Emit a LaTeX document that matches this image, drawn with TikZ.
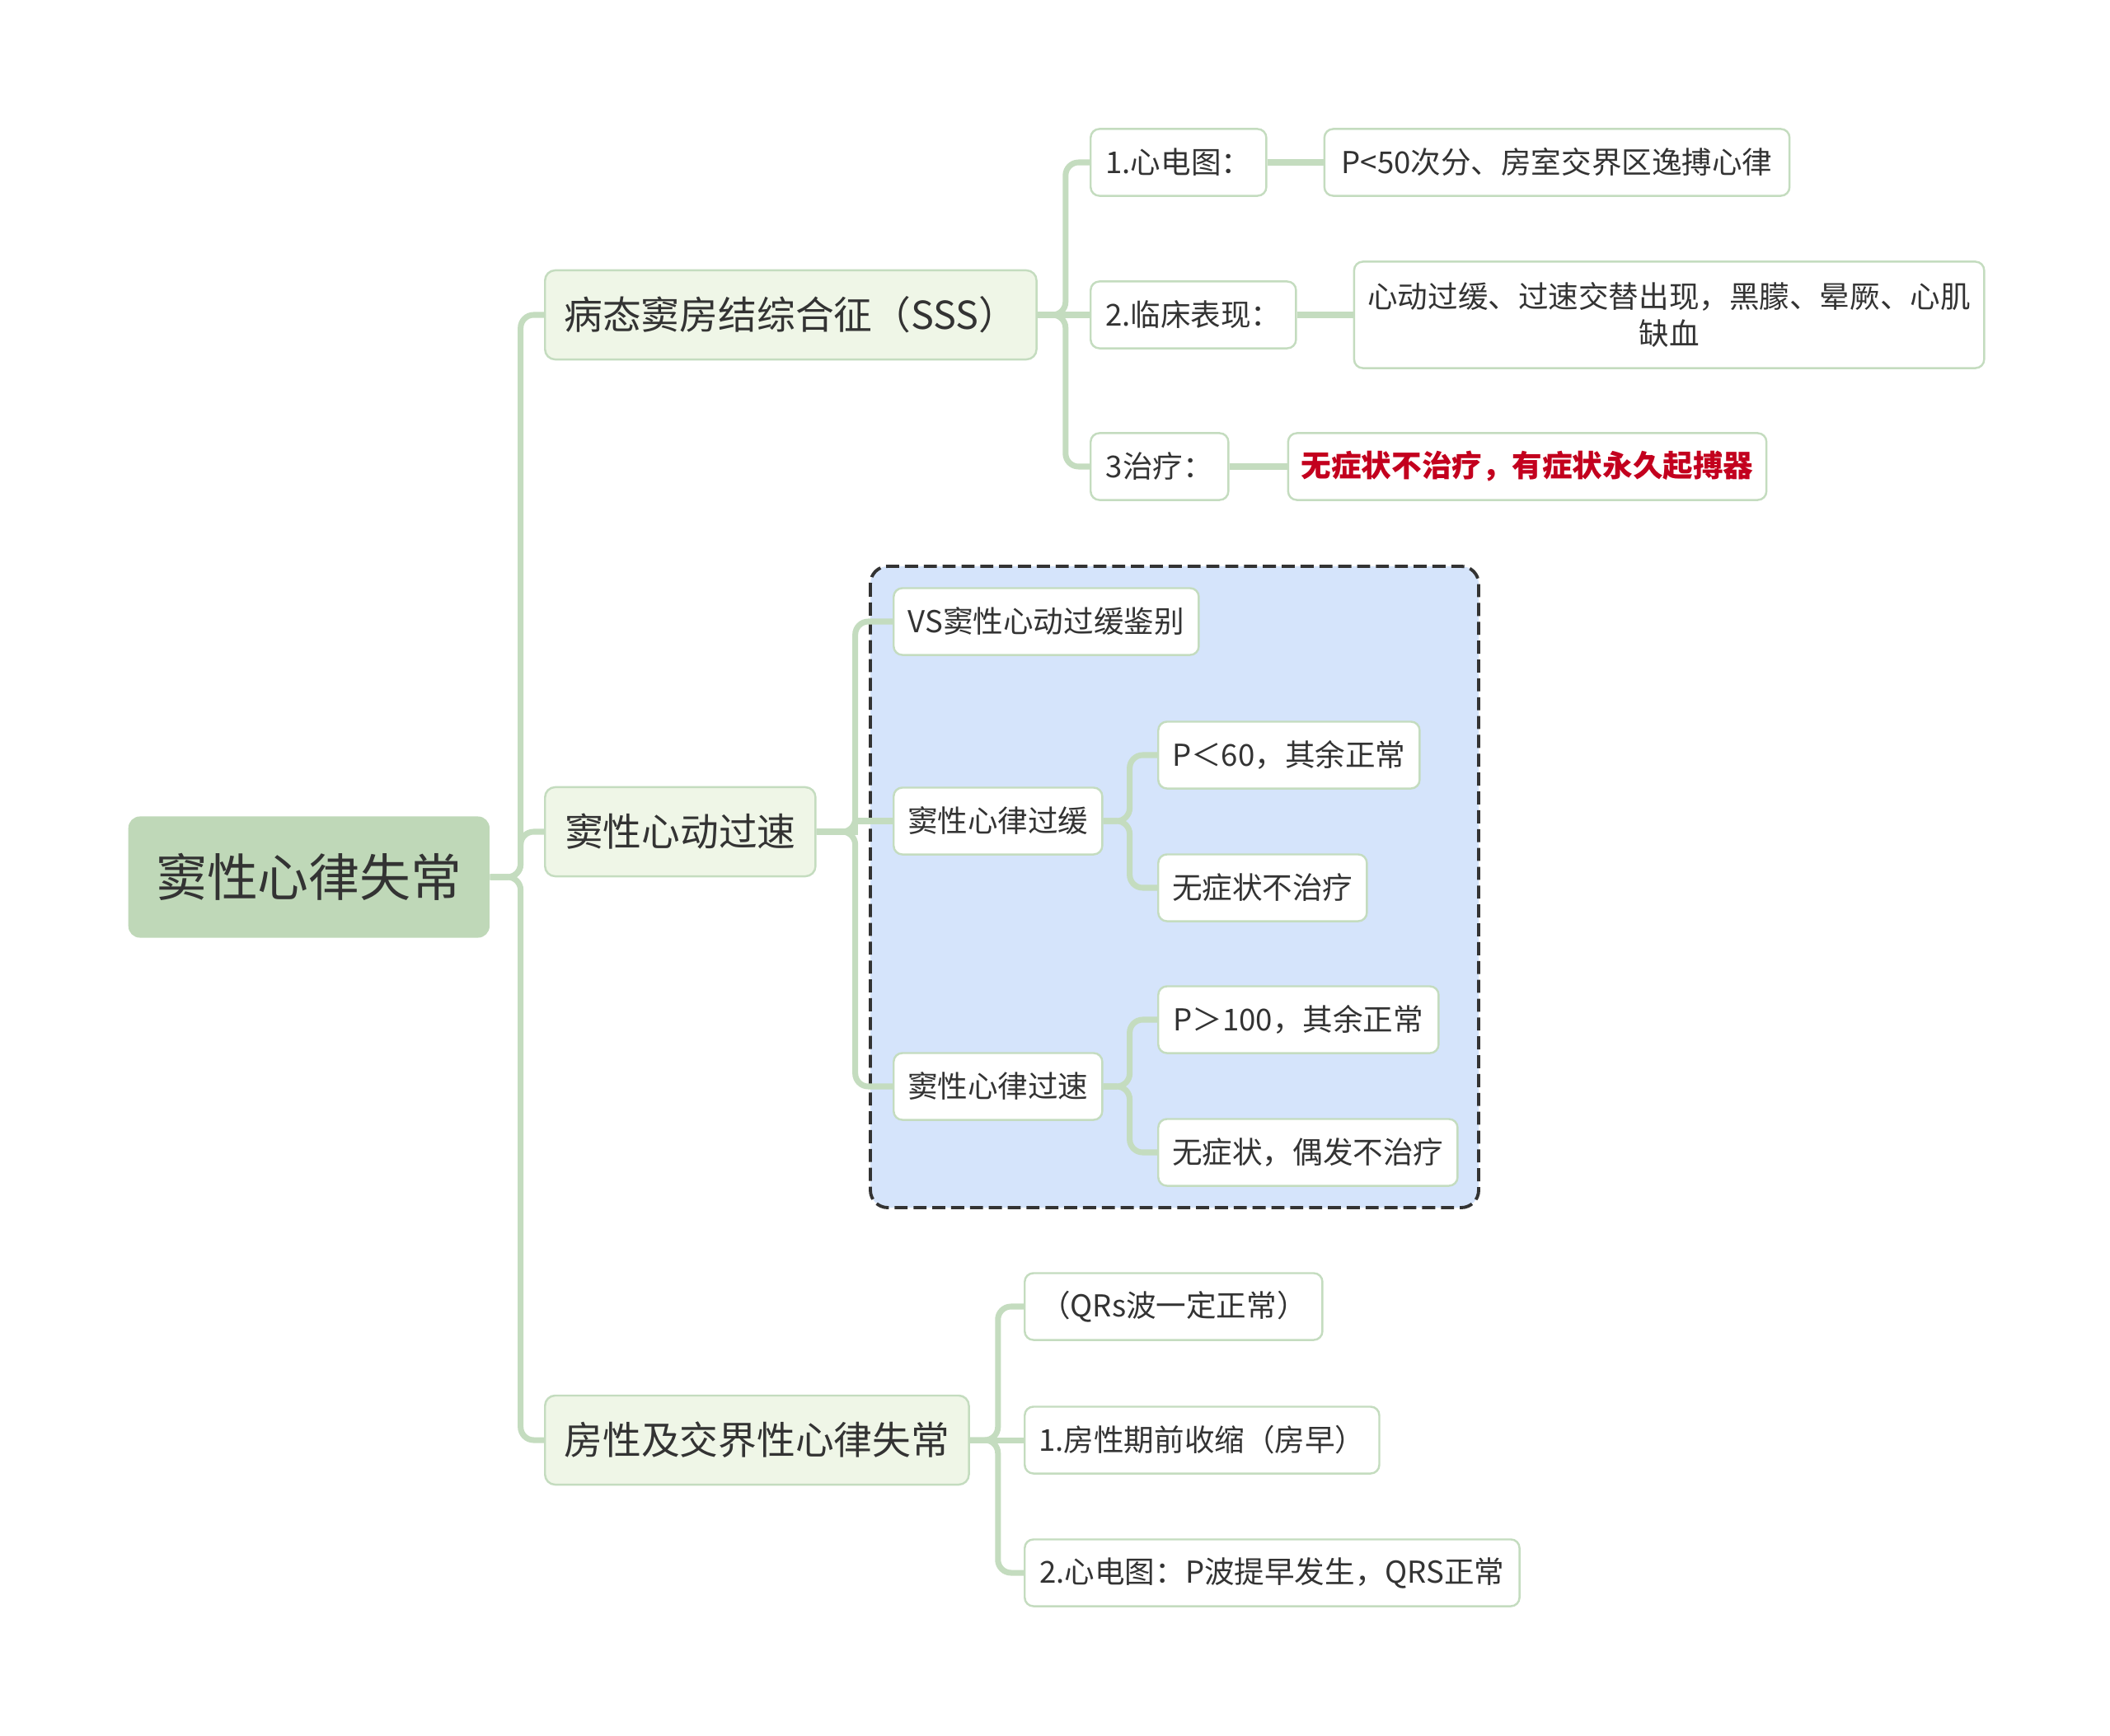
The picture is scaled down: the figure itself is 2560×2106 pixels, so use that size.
\documentclass[tikz,border=0pt]{standalone}
\usepackage{fontspec}
\setmainfont{Noto Sans CJK SC}
\usetikzlibrary{positioning}
\definecolor{lineg}{HTML}{C4DCBF}
\definecolor{rootg}{HTML}{BFD8B8}
\definecolor{topicg}{HTML}{EFF6E7}
\definecolor{boxblue}{HTML}{D5E4FB}
\definecolor{inkc}{HTML}{333333}
\definecolor{alertc}{HTML}{C3001E}
\begin{document}
\begin{tikzpicture}[
  x=0.01cm, y=-0.01cm,
  node distance=0.68cm,
  root/.style={fill=rootg, text=inkc, rounded corners=4pt, inner sep=0pt,
               minimum width=4.38cm, minimum height=1.47cm,
               font=\fontsize{17.6}{20}\selectfont},
  topic/.style={draw=lineg, line width=0.7pt, fill=topicg, text=inkc,
                rounded corners=3.5pt, inner sep=0pt, minimum height=1.08cm,
                font=\fontsize{13.3}{16}\selectfont},
  leaf/.style={draw=lineg, line width=0.7pt, fill=white, text=inkc,
               rounded corners=3pt, inner sep=0pt, minimum height=0.81cm,
               align=center, font=\fontsize{10.4}{13}\selectfont},
  link/.style={draw=lineg, line width=2pt},
  curvedlink/.style={link, rounded corners=4.5pt},
  dashbox/.style={draw=inkc, line width=1.1pt, dash pattern=on 4.5pt off 2pt,
                  fill=boxblue, rounded corners=6pt}
]
\useasboundingbox (0,0) rectangle (2560,2106);

\draw[dashbox] (1056,687) rectangle (1794,1465);

\node[root, anchor=west] (rt) at (155,1064) {窦性心律失常};
\node[topic, minimum width=5.96cm, anchor=west] (sss) at (660,382)
  {病态窦房结综合征（SSS）};
\node[topic, minimum width=3.28cm, anchor=west] (tach) at (660,1009)
  {窦性心动过速};
\node[topic, minimum width=5.14cm, anchor=west] (atr) at (660,1747)
  {房性及交界性心律失常};

\node[leaf, minimum width=2.13cm, anchor=west] (ecg) at (1322,197) {1.心电图：};
\node[leaf, minimum width=5.64cm, right=of ecg] (ecgx)
  {P<50次分、房室交界区逸搏心律};
\node[leaf, minimum width=2.49cm, anchor=west] (sym) at (1322,382) {2.临床表现：};
\node[leaf, minimum width=7.64cm, minimum height=1.29cm, right=of sym] (symx)
  {心动过缓、过速交替出现，黑朦、晕厥、心肌\\缺血};
\node[leaf, minimum width=1.67cm, anchor=west] (trt) at (1322,566) {3治疗：};
\node[leaf, minimum width=5.80cm, right=0.70cm of trt, text=alertc,
  font=\fontsize{10.4}{13}\selectfont\bfseries] (trtx)
  {无症状不治疗，有症状永久起搏器};

\node[leaf, minimum width=3.70cm, anchor=west] (vs) at (1083,754)
  {VS窦性心动过缓鉴别};
\node[leaf, minimum width=2.53cm, anchor=west] (brady) at (1083,996)
  {窦性心律过缓};
\node[leaf, minimum width=2.53cm, anchor=west] (tachy) at (1083,1318)
  {窦性心律过速};
\node[leaf, minimum width=3.17cm, anchor=west] (bra1) at (1404,916)
  {P＜60，其余正常};
\node[leaf, minimum width=2.53cm, anchor=west] (bra2) at (1404,1077)
  {无症状不治疗};
\node[leaf, minimum width=3.40cm, anchor=west] (tac1) at (1404,1237)
  {P＞100，其余正常};
\node[leaf, minimum width=3.63cm, anchor=west] (tac2) at (1404,1398)
  {无症状，偶发不治疗};

\node[leaf, minimum width=3.61cm, anchor=west] (qrs) at (1242,1585)
  {（QRs波一定正常）};
\node[leaf, minimum width=4.30cm, anchor=west] (pac) at (1242,1747)
  {1.房性期前收缩（房早）};
\node[leaf, minimum width=6.00cm, anchor=west] (pecg) at (1242,1908)
  {2.心电图：P波提早发生，QRS正常};

\foreach \c in {sss,tach,atr} \draw[curvedlink] (rt.east) -- ++(37,0) |- (\c.west);
\foreach \c in {ecg,trt} \draw[curvedlink] (sss.east) -- ++(34,0) |- (\c.west);
\foreach \c in {vs,tachy} \draw[curvedlink] (tach.east) -- ++(47,0) |- (\c.west);
\foreach \c in {bra1,bra2} \draw[curvedlink] (brady.east) -- ++(32,0) |- (\c.west);
\foreach \c in {tac1,tac2} \draw[curvedlink] (tachy.east) -- ++(32,0) |- (\c.west);
\foreach \c in {qrs,pecg} \draw[curvedlink] (atr.east) -- ++(34,0) |- (\c.west);
\draw[link] (sss.east) -- (sym.west);
\draw[link] (tach.east) -- ++(47,0) |- (brady.west);
\draw[link] (atr.east) -- (pac.west);
\draw[link] (ecg.east) -- (ecgx.west);
\draw[link] (sym.east) -- (symx.west);
\draw[link] (trt.east) -- (trtx.west);
\end{tikzpicture}
\end{document}
